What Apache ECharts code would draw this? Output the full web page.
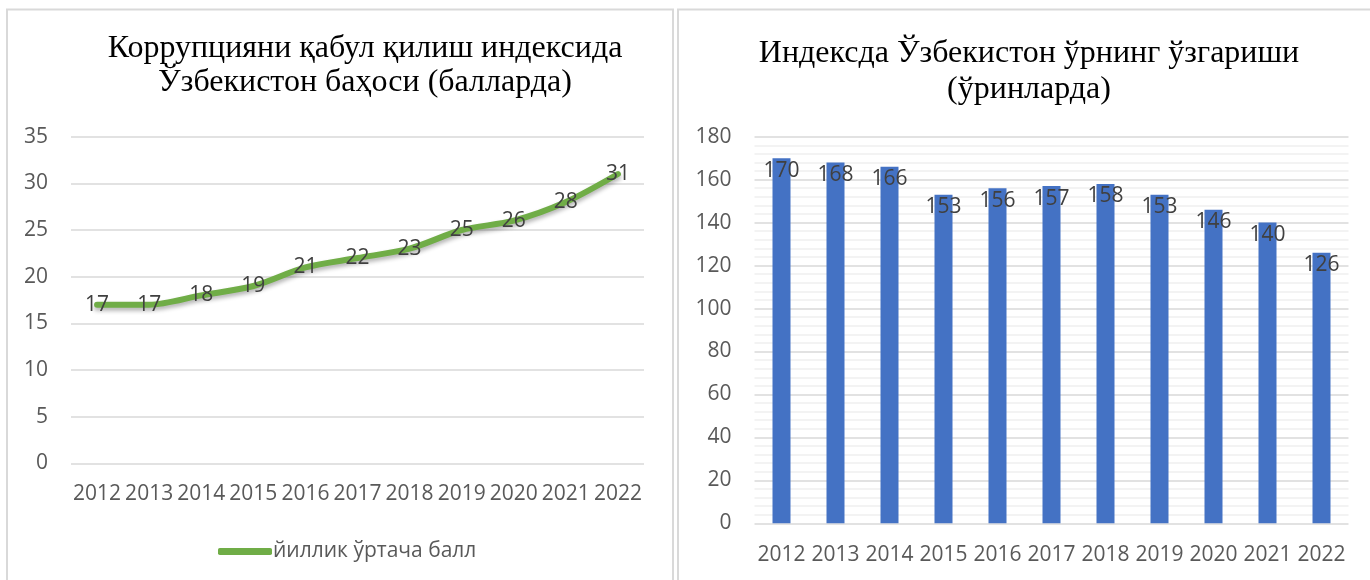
<!DOCTYPE html>
<html>
<head>
<meta charset="utf-8">
<script src="https://cdn.jsdelivr.net/npm/echarts@6/dist/echarts.min.js"></script>
<style>
  html, body { margin: 0; padding: 0; background: #fff; }
  #chart { width: 1370px; height: 580px; }
</style>
</head>
<body>
<div id="chart"></div>
<script>
  // Two side-by-side Excel-style panels: score line (left), rank bars (right).
  const years = ['2012', '2013', '2014', '2015', '2016', '2017', '2018', '2019', '2020', '2021', '2022'];
  const scoreValues = [17, 17, 18, 19, 21, 22, 23, 25, 26, 28, 31];
  const rankValues = [170, 168, 166, 153, 156, 157, 158, 153, 146, 140, 126];
  const scoreName = 'йиллик ўртача балл';
  const leftTitle = 'Коррупцияни қабул қилиш индексида\nЎзбекистон баҳоси (балларда)';
  const rightTitle = 'Индексда Ўзбекистон ўрнинг ўзгариши\n(ўринларда)';

  const FONT = '"Open Sans", "Liberation Sans", sans-serif';
  const SERIF = '"Liberation Serif", "DejaVu Serif", serif';
  const AXIS_TXT = '#595959';
  const GRID = '#d9d9d9';
  const FS = 21;

  const chart = echarts.init(document.getElementById('chart'), null, { renderer: 'canvas' });

  chart.setOption({
    animation: false,
    textStyle: { fontFamily: FONT },
    graphic: [
      // panel frames
      { type: 'rect', shape: { x: 7, y: 9.5, width: 666, height: 600 },
        style: { fill: 'none', stroke: GRID, lineWidth: 2 }, silent: true },
      { type: 'rect', shape: { x: 678, y: 9.5, width: 700, height: 600 },
        style: { fill: 'none', stroke: GRID, lineWidth: 2 }, silent: true },
    ],
    title: [
      { text: leftTitle, left: 360, top: 27, textAlign: 'center',
        textStyle: { fontFamily: SERIF, fontWeight: 'normal', fontSize: 32, lineHeight: 34, color: '#000' } },
      { text: rightTitle, left: 1024, top: 31, textAlign: 'center',
        textStyle: { fontFamily: SERIF, fontWeight: 'normal', fontSize: 32, lineHeight: 36, color: '#000' } },
    ],
    legend: {
      data: [{ name: scoreName, icon: 'roundRect' }],
      left: 213, top: 536,
      itemWidth: 54, itemHeight: 7, itemGap: 4,
      textStyle: { fontFamily: FONT, fontSize: FS, color: AXIS_TXT, padding: [0, 0, 0, -4] },
    },
    grid: [
      { left: 71, right: 726, top: 136.7, bottom: 116.7 },
      { left: 754.5, right: 21.5, top: 136.7, bottom: 56.7 },
    ],
    xAxis: [
      { type: 'category', gridIndex: 0, data: years, boundaryGap: true,
        axisLine: { show: false }, axisTick: { show: false },
        axisLabel: { interval: 0, fontSize: FS, color: AXIS_TXT, margin: 20 } },
      { type: 'category', gridIndex: 1, data: years, boundaryGap: true,
        axisLine: { show: false }, axisTick: { show: false },
        axisLabel: { interval: 0, fontSize: FS, color: AXIS_TXT, margin: 21 } },
    ],
    yAxis: [
      { type: 'value', gridIndex: 0, min: 0, max: 35, interval: 5,
        axisLine: { show: false }, axisTick: { show: false },
        axisLabel: { fontSize: FS, color: AXIS_TXT, margin: 23 },
        splitLine: { lineStyle: { color: GRID, width: 1.5 } } },
      { type: 'value', gridIndex: 1, min: 0, max: 180, interval: 20,
        axisLine: { show: false }, axisTick: { show: false },
        axisLabel: { fontSize: FS, color: AXIS_TXT, margin: 23 },
        splitLine: { lineStyle: { color: GRID, width: 1.5 } },
        minorTick: { show: false, splitNumber: 5 },
        minorSplitLine: { show: true, lineStyle: { color: '#f0f0f0', width: 1.5 } } },
    ],
    series: [
      {
        name: scoreName, type: 'line', xAxisIndex: 0, yAxisIndex: 0,
        data: scoreValues, smooth: 0.3, symbol: 'circle', symbolSize: 0, showSymbol: true,
        lineStyle: { color: '#70ad47', width: 6, cap: 'round',
          shadowColor: 'rgba(0,0,0,0.3)', shadowBlur: 4, shadowOffsetY: 3 },
        itemStyle: { color: '#70ad47' },
        label: { show: true, position: 'inside', fontSize: FS, color: '#404040' },
      },
      {
        name: 'rank', type: 'bar', xAxisIndex: 1, yAxisIndex: 1,
        data: rankValues, barWidth: 18,
        itemStyle: { color: '#4472c4' },
        label: { show: true, position: 'insideTop', distance: 2, fontSize: FS, color: '#404040' },
      },
    ],
  });
</script>
</body>
</html>
